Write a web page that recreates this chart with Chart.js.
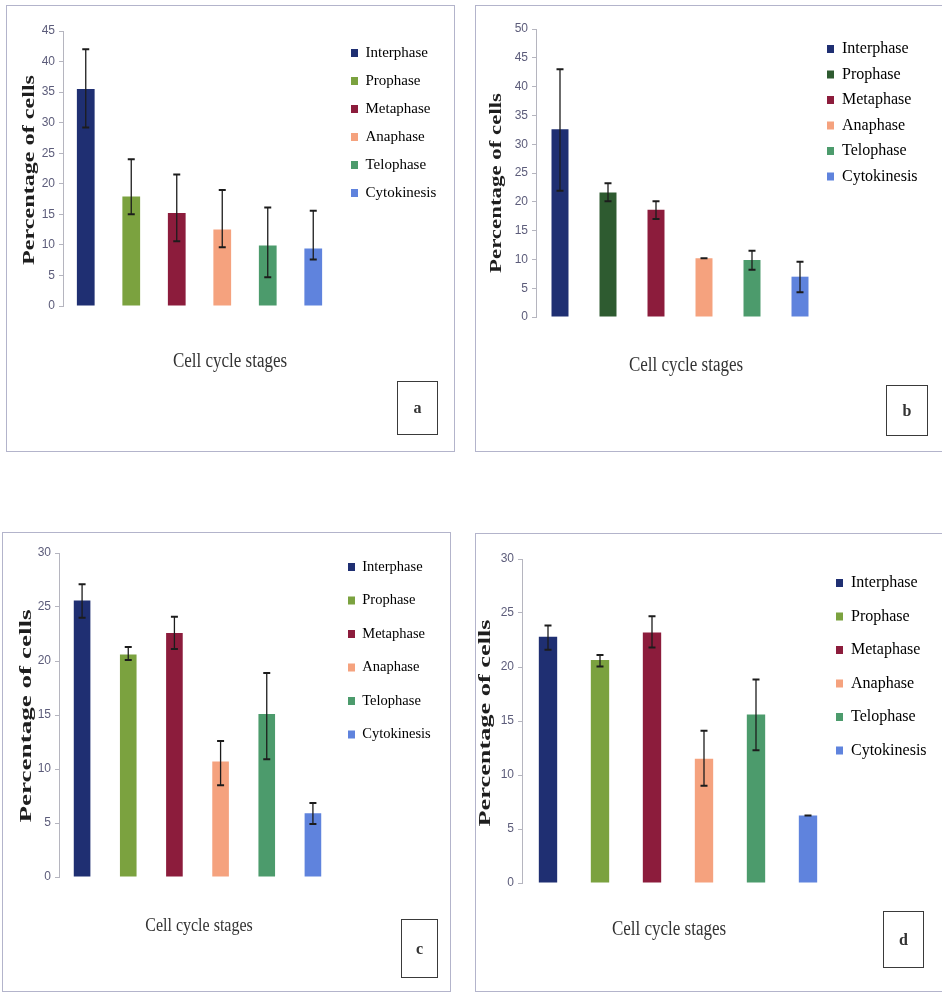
<!DOCTYPE html>
<html>
<head>
<meta charset="utf-8">
<script src="https://cdn.jsdelivr.net/npm/chart.js@4.4.1/dist/chart.umd.min.js"></script>
<style>
  html, body { margin: 0; padding: 0; background: #ffffff; }
  #page { position: relative; width: 942px; height: 993px; overflow: hidden; background: #ffffff; }
  .panel-canvas { position: absolute; }
  .frame { position: absolute; box-sizing: border-box; border: 1px solid #b3b4cb; pointer-events: none; }
  .tag {
    position: absolute; box-sizing: border-box; border: 1.5px solid #3a3a3a;
    display: flex; align-items: center; justify-content: center;
    font: bold 16px "Liberation Serif", serif; color: #333;
  }
</style>
</head>
<body>
<div id="page"></div>
<script>
// ---- Data: cell-cycle stage frequencies (% of cells) with error-bar bounds ----
const stages = ['Interphase', 'Prophase', 'Metaphase', 'Anaphase', 'Telophase', 'Cytokinesis'];

const valuesA  = [35.5, 17.9, 15.2, 12.5, 9.9, 9.4];
const errLowA  = [29.2, 15.0, 10.6, 9.6, 4.7, 7.6];
const errHighA = [42.0, 24.0, 21.5, 19.0, 16.1, 15.6];

const valuesB  = [32.6, 21.6, 18.6, 10.2, 9.9, 7.0];
const errLowB  = [21.9, 20.1, 17.0, 10.2, 8.2, 4.3];
const errHighB = [43.0, 23.2, 20.1, 10.2, 11.5, 9.6];

const valuesC  = [25.6, 20.6, 22.6, 10.7, 15.1, 5.9];
const errLowC  = [24.0, 20.1, 21.1, 8.5, 10.9, 4.9];
const errHighC = [27.1, 21.3, 24.1, 12.6, 18.9, 6.85];

const valuesD  = [22.8, 20.65, 23.2, 11.5, 15.6, 6.26];
const errLowD  = [21.6, 20.05, 21.8, 9.0, 12.3, 6.26];
const errHighD = [23.85, 21.1, 24.7, 14.1, 18.85, 6.26];

// y-axis ranges (ticks every 5)
const yMaxA = 45, yMaxB = 50, yMaxC = 30, yMaxD = 30;
const yStep = 5;

const xAxisTitle = 'Cell cycle stages';
const yAxisTitle = 'Percentage of cells';
const panelTags = ['a', 'b', 'c', 'd'];

// ---- Colours ----
const stageColours  = ['#1f2f72', '#7ba23f', '#8c1c3c', '#f5a27e', '#4c9b6c', '#5f83dd'];
const stageColoursB = ['#1f2f72', '#2e5b30', '#8c1c3c', '#f5a27e', '#4c9b6c', '#5f83dd'];

// ---- Page layout of the four panels (page pixel coordinates) ----
const panels = [
  { tag: panelTags[0], values: valuesA, low: errLowA, high: errHighA, colours: stageColours, yMax: yMaxA,
    frame: { x: 6, y: 5, w: 449, h: 447 }, plot: { left: 63, right: 336, top: 31, bottom: 306 }, barPct: 0.39,
    legend: { x: 351, y: 53, gap: 28, size: 15 }, xTitle: { x: 230, y: 362, size: 17 },
    yTitle: { x: 30, y: 170, len: 190, size: 16 }, tagBox: { x: 397, y: 381, w: 41, h: 54 } },
  { tag: panelTags[1], values: valuesB, low: errLowB, high: errHighB, colours: stageColoursB, yMax: yMaxB,
    frame: { x: 475, y: 5, w: 472, h: 447 }, plot: { left: 536, right: 824, top: 29, bottom: 317 }, barPct: 0.354,
    legend: { x: 827, y: 49, gap: 25.5, size: 16 }, xTitle: { x: 686, y: 366, size: 17 },
    yTitle: { x: 497, y: 183, len: 180, size: 16 }, tagBox: { x: 886, y: 385, w: 42, h: 51 } },
  { tag: panelTags[2], values: valuesC, low: errLowC, high: errHighC, colours: stageColours, yMax: yMaxC,
    frame: { x: 2, y: 532, w: 449, h: 460 }, plot: { left: 59, right: 336, top: 553, bottom: 877 }, barPct: 0.36,
    legend: { x: 348, y: 567, gap: 33.5, size: 14.5 }, xTitle: { x: 199, y: 926, size: 16 },
    yTitle: { x: 27, y: 716, len: 213, size: 16 }, tagBox: { x: 401, y: 919, w: 37, h: 59 } },
  { tag: panelTags[3], values: valuesD, low: errLowD, high: errHighD, colours: stageColours, yMax: yMaxD,
    frame: { x: 475, y: 533, w: 472, h: 459 }, plot: { left: 522, right: 834, top: 559, bottom: 883 }, barPct: 0.353,
    legend: { x: 836, y: 583, gap: 33.5, size: 16 }, xTitle: { x: 669, y: 930, size: 17 },
    yTitle: { x: 486, y: 723, len: 207, size: 16 }, tagBox: { x: 883, y: 911, w: 41, h: 57 } }
];

const SERIF = '"Liberation Serif", "Times New Roman", serif';
const SANS = '"Liberation Sans", Arial, sans-serif';
const LEGEND_MAX_W = 60;

// ---- Plugins ----
// Vertical error bars with caps, from errLow/errHigh on the dataset
const errorBars = {
  id: 'errorBars',
  afterDatasetsDraw(chart, args, opts) {
    const ds = chart.data.datasets[0];
    const meta = chart.getDatasetMeta(0);
    const y = chart.scales.y;
    const ctx = chart.ctx;
    ctx.save();
    ctx.strokeStyle = opts.color;
    meta.data.forEach((bar, i) => {
      const top = y.getPixelForValue(ds.errHigh[i]);
      const bot = y.getPixelForValue(ds.errLow[i]);
      ctx.lineWidth = opts.stemWidth;
      ctx.beginPath();
      ctx.moveTo(bar.x, top);
      ctx.lineTo(bar.x, bot);
      ctx.stroke();
      ctx.lineWidth = opts.capWidth;
      ctx.beginPath();
      ctx.moveTo(bar.x - opts.cap, top); ctx.lineTo(bar.x + opts.cap, top);
      ctx.moveTo(bar.x - opts.cap, bot); ctx.lineTo(bar.x + opts.cap, bot);
      ctx.stroke();
    });
    ctx.restore();
  }
};

// Places the legend column at a chosen spot beside the plot
const legendPlace = {
  id: 'legendPlace',
  afterLayout(chart, args, opts) {
    const lg = chart.legend;
    if (!lg) return;
    const lab = chart.options.plugins.legend.labels;
    lg.left = opts.x - lab.padding;
    lg.right = chart.width;
    lg.width = lg.right - lg.left;
    lg.top = opts.y - lab.padding - lab.font.size / 2;
    lg.bottom = chart.height;
    lg.height = lg.bottom - lg.top;
  }
};

// Axis titles: horizontal x title and a rotated, lengthwise-stretched y title
const axisTitles = {
  id: 'axisTitles',
  afterDraw(chart, args, o) {
    const ctx = chart.ctx;
    ctx.save();
    ctx.textAlign = 'center';
    ctx.textBaseline = 'middle';
    ctx.fillStyle = '#333333';
    ctx.font = `${o.xSize}px ${SERIF}`;
    ctx.translate(o.xX, o.xY);
    ctx.scale(1, 1.22);
    ctx.fillText(o.xText, 0, 0);
    ctx.restore();

    ctx.save();
    ctx.textAlign = 'center';
    ctx.textBaseline = 'middle';
    ctx.translate(o.yX, o.yY);
    ctx.rotate(-Math.PI / 2);
    ctx.fillStyle = '#1e1e1e';
    ctx.font = `bold ${o.ySize}px ${SERIF}`;
    const w0 = ctx.measureText(o.yText).width;
    ctx.scale(o.yLen / w0, 1);
    ctx.fillText(o.yText, 0, 0);
    ctx.restore();
  }
};

// ---- Build panels ----
const page = document.getElementById('page');

panels.forEach(p => {
  const cx = p.frame.x, cy = p.frame.y, cW = p.frame.w, cH = p.frame.h;

  const canvas = document.createElement('canvas');
  canvas.className = 'panel-canvas';
  canvas.width = cW; canvas.height = cH;
  canvas.style.left = cx + 'px'; canvas.style.top = cy + 'px';
  canvas.style.width = cW + 'px'; canvas.style.height = cH + 'px';
  page.appendChild(canvas);

  const frame = document.createElement('div');
  frame.className = 'frame';
  frame.style.left = cx + 'px'; frame.style.top = cy + 'px';
  frame.style.width = cW + 'px'; frame.style.height = cH + 'px';
  page.appendChild(frame);

  const tag = document.createElement('div');
  tag.className = 'tag';
  tag.style.left = p.tagBox.x + 'px'; tag.style.top = p.tagBox.y + 'px';
  tag.style.width = p.tagBox.w + 'px'; tag.style.height = p.tagBox.h + 'px';
  tag.textContent = p.tag;
  page.appendChild(tag);

  const yAxisWidth = p.plot.left - cx;
  const legendPad = p.legend.gap - p.legend.size;

  new Chart(canvas, {
    type: 'bar',
    data: {
      labels: stages,
      datasets: [{
        data: p.values,
        errLow: p.low,
        errHigh: p.high,
        backgroundColor: p.colours,
        borderWidth: 0,
        barPercentage: p.barPct,
        categoryPercentage: 1
      }]
    },
    options: {
      responsive: false,
      animation: false,
      devicePixelRatio: 1,
      events: [],
      layout: {
        padding: {
          left: 0,
          top: p.plot.top - cy,
          right: cW - (p.plot.right - cx) - LEGEND_MAX_W,
          bottom: cH - (p.plot.bottom - cy)
        }
      },
      scales: {
        x: { display: false, offset: true },
        y: {
          min: 0, max: p.yMax,
          ticks: { stepSize: yStep, color: '#5c5c7a', font: { family: SANS, size: 12 }, padding: 4 },
          grid: { display: true, drawOnChartArea: false, drawTicks: true, tickLength: 4, color: '#b5b5bf' },
          border: { display: true, color: '#b5b5bf', width: 1 },
          afterFit(scale) { scale.width = yAxisWidth; }
        }
      },
      plugins: {
        tooltip: { enabled: false },
        title: { display: false },
        legend: {
          display: true,
          position: 'right',
          align: 'start',
          maxWidth: LEGEND_MAX_W,
          onClick: null,
          labels: {
            boxWidth: 7,
            boxHeight: 8,
            padding: legendPad,
            color: '#1e1e1e',
            font: { family: SERIF, size: p.legend.size },
            generateLabels(chart) {
              const ds = chart.data.datasets[0];
              return chart.data.labels.map((label, i) => ({
                text: label,
                fillStyle: ds.backgroundColor[i],
                strokeStyle: ds.backgroundColor[i],
                lineWidth: 0,
                hidden: false,
                index: i,
                datasetIndex: 0
              }));
            }
          }
        },
        legendPlace: { x: p.legend.x - cx, y: p.legend.y - cy },
        errorBars: { color: '#1c1c1c', stemWidth: 1.3, capWidth: 2, cap: 3.5 },
        axisTitles: {
          xText: xAxisTitle, xX: p.xTitle.x - cx, xY: p.xTitle.y - cy, xSize: p.xTitle.size,
          yText: yAxisTitle, yX: p.yTitle.x - cx, yY: p.yTitle.y - cy, yLen: p.yTitle.len, ySize: p.yTitle.size
        }
      }
    },
    plugins: [legendPlace, errorBars, axisTitles]
  });
});
</script>
</body>
</html>
